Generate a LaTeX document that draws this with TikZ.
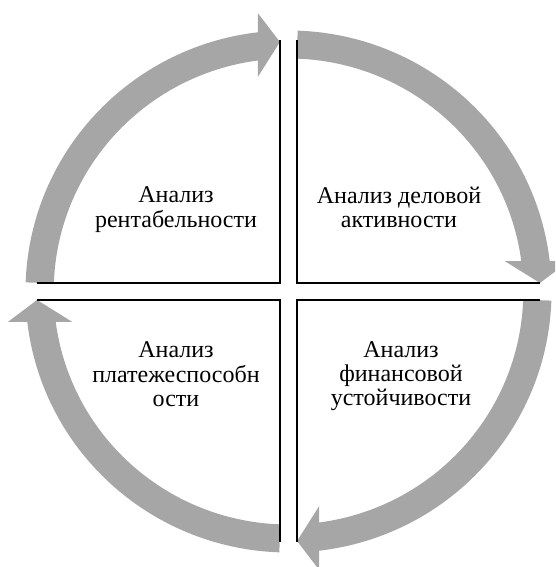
\documentclass[tikz,border=0pt]{standalone}
\usepackage{fontspec}
\setmainfont{Liberation Serif}
\definecolor{arrowgray}{RGB}{166,166,166}
\tikzset{
  cycarrow/.pic={
    \fill[arrowgray] (178:261pt) arc[start angle=178, end angle=96.7, radius=261pt]
      -- (-30.5pt,278.5pt) -- (-8.5pt,249.5pt) -- (-30.5pt,214.5pt) -- (97.5:233pt)
      arc[start angle=97.5, end angle=178, radius=233pt] -- cycle;
  },
  quadline/.style={draw=black, line width=2.5pt, line join=miter},
  quadtext/.style={align=center, inner sep=0pt, font=\fontsize{24}{24}\selectfont}
}
\begin{document}
\begin{tikzpicture}[x=1pt, y=1pt]
\path[use as bounding box] (0,0) rectangle (555,567);
\clip (0,0) rectangle (555,567);
\coordinate (C) at (288.5,275.5);
% cycle arrows
\pic[xscale=1.0077, rotate=0]   at (C) {cycarrow};
\pic[xscale=1.0077, rotate=-90] at (C) {cycarrow};
\pic[xscale=1.0077, rotate=-180] at (C) {cycarrow};
\pic[xscale=1.0077, rotate=-270] at (C) {cycarrow};
% quadrant corners
\coordinate (tlA) at (37,284);  \coordinate (tlB) at (280,284);  \coordinate (tlC) at (280,527);
\coordinate (trA) at (297,527); \coordinate (trB) at (297,284);  \coordinate (trC) at (540,284);
\coordinate (blA) at (37,267);  \coordinate (blB) at (280,267);  \coordinate (blC) at (280,25);
\coordinate (brA) at (540,267); \coordinate (brB) at (297,267);  \coordinate (brC) at (297,25);
\draw[quadline] (tlA) -- (tlB) -- (tlC);
\draw[quadline] (trA) -- (trB) -- (trC);
\draw[quadline] (blA) -- (blB) -- (blC);
\draw[quadline] (brA) -- (brB) -- (brC);
% texts
\node[quadtext] (tl) at (176,356.5) {\strut Анализ\\\strut рентабельности};
\node[quadtext] (tr) at (399,356.5) {\strut Анализ деловой\\\strut активности};
\node[quadtext] (bl) at (176,189.8) {\strut Анализ\\\strut платежеспособн\\\strut ости};
\node[quadtext] (br) at (401,189.8) {\strut Анализ\\\strut финансовой\\\strut устойчивости};
\end{tikzpicture}
\end{document}
